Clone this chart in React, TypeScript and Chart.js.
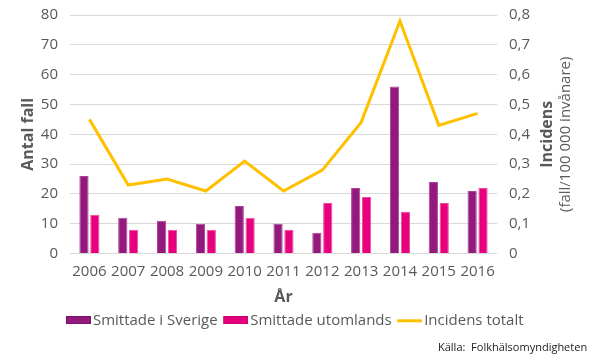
import React, { useEffect, useRef } from "react";
import { Chart, registerables } from "chart.js";

Chart.register(...registerables);

const years = ["2006", "2007", "2008", "2009", "2010", "2011", "2012", "2013", "2014", "2015", "2016"];
const smittadeSverige = [26, 12, 11, 10, 16, 10, 7, 22, 56, 24, 21];
const smittadeUtomlands = [13, 8, 8, 8, 12, 8, 17, 19, 14, 17, 22];
const incidensTotalt = [0.45, 0.23, 0.25, 0.21, 0.31, 0.21, 0.28, 0.44, 0.78, 0.43, 0.47];

const FONT = "'Open Sans', 'Noto Sans', sans-serif";
const GREY = "#595959";
const PURPLE = "#931A7C";
const PINK = "#E6007E";
const GOLD = "#FFC000";

const LEGEND_BOX = 19;

function legendMarker(kind: "rect" | "line", color: string, border?: string) {
  const c = document.createElement("canvas");
  const W = 49 - LEGEND_BOX;
  c.width = W;
  c.height = 8;
  const g = c.getContext("2d")!;
  const x0 = W - 25;
  if (kind === "rect") {
    g.fillStyle = color;
    g.fillRect(x0, 0, 25, 8);
    if (border) {
      g.strokeStyle = border;
      g.lineWidth = 1;
      g.strokeRect(x0 + 0.5, 0.5, 24, 7);
    }
  } else {
    g.fillStyle = color;
    g.fillRect(x0, 3, 25, 3);
  }
  return c;
}

const axisTitles = {
  id: "axisTitles",
  afterDraw(chart: any) {
    const { ctx, chartArea } = chart;
    const cy = (chartArea.top + chartArea.bottom) / 2;
    ctx.save();
    ctx.fillStyle = GREY;
    ctx.textAlign = "center";
    ctx.textBaseline = "middle";
    const draw = (text: string, x: number, font: string) => {
      ctx.save();
      ctx.translate(x, cy);
      ctx.rotate(-Math.PI / 2);
      ctx.font = font;
      ctx.fillText(text, 0, 0);
      ctx.restore();
    };
    draw("Antal fall", 28, `bold 16px ${FONT}`);
    draw("Incidens", 547, `bold 16px ${FONT}`);
    draw("(fall/100 000 invånare)", 566, `15px ${FONT}`);
    ctx.restore();
  },
};

export default function App() {
  const ref = useRef<HTMLCanvasElement>(null);
  useEffect(() => {
    const markers = [
      legendMarker("rect", PURPLE, "#7A1568"),
      legendMarker("rect", PINK, "#C8006E"),
      legendMarker("line", GOLD),
    ];
    const chart = new Chart(ref.current!, {
      type: "bar",
      data: {
        labels: years,
        datasets: [
          {
            type: "bar",
            label: "Smittade i Sverige",
            data: smittadeSverige,
            backgroundColor: PURPLE,
            borderColor: "#A8449A",
            borderWidth: 1,
            yAxisID: "y",
            order: 2,
          } as any,
          {
            type: "bar",
            label: "Smittade utomlands",
            data: smittadeUtomlands,
            backgroundColor: PINK,
            borderColor: "#EE4C9E",
            borderWidth: 1,
            yAxisID: "y",
            order: 2,
          } as any,
          {
            type: "line",
            label: "Incidens totalt",
            data: incidensTotalt,
            borderColor: GOLD,
            backgroundColor: GOLD,
            borderWidth: 3,
            pointRadius: 0,
            tension: 0,
            yAxisID: "y1",
            order: 1,
          } as any,
        ],
      },
      options: {
        animation: false,
        responsive: true,
        maintainAspectRatio: false,
        layout: { padding: { top: 0, left: 0, right: 0, bottom: 0 } },
        datasets: { bar: { categoryPercentage: 0.56, barPercentage: 0.85 } } as any,
        font: { family: FONT },
        scales: {
          x: {
            grid: { display: false, drawTicks: false },
            border: { display: false },
            ticks: { color: GREY, font: { family: FONT, size: 15 }, maxRotation: 0, padding: 9 },
            title: { display: true, text: "År", color: GREY, font: { family: FONT, size: 16, weight: "bold" }, padding: { top: -2, bottom: 0 } },
          },
          y: {
            position: "left",
            min: 0,
            max: 80,
            ticks: { stepSize: 10, color: GREY, font: { family: FONT, size: 15 }, padding: 12 },
            grid: { color: "#D9D9D9", lineWidth: 1, drawTicks: false },
            border: { display: false },
            afterFit: (s: any) => { s.width = 70; s.paddingTop = 15; s.paddingBottom = 0; },
          },
          y1: {
            position: "right",
            min: 0,
            max: 0.8,
            ticks: {
              stepSize: 0.1,
              color: GREY,
              font: { family: FONT, size: 15 },
              padding: 12,
              callback: (v: any) => (v === 0 ? "0" : Number(v).toFixed(1).replace(".", ",")),
            },
            grid: { display: false, drawTicks: false },
            border: { display: false },
            afterFit: (s: any) => { s.width = 93; s.paddingTop = 15; s.paddingBottom = 0; },
          },
        },
        plugins: {
          legend: {
            position: "bottom",
            labels: {
              usePointStyle: true,
              pointStyleWidth: LEGEND_BOX,
              boxHeight: 7,
              color: GREY,
              font: { family: FONT, size: 15 },
              padding: 6,
              sort: (a: any, b: any) => a.datasetIndex - b.datasetIndex,
              generateLabels: (c: any) => {
                const items = Chart.defaults.plugins.legend.labels.generateLabels(c);
                return items.map((it: any) => ({ ...it, pointStyle: markers[it.datasetIndex], lineWidth: 0 }));
              },
            },
          },
          subtitle: {
            display: true,
            position: "bottom",
            align: "end",
            text: "Källa:  Folkhälsomyndigheten ",
            color: "#222222",
            font: { family: FONT, size: 11, weight: "normal" },
            padding: { top: 3, bottom: 0 },
          },
          tooltip: { enabled: false },
        },
      },
      plugins: [axisTitles],
    });
    return () => chart.destroy();
  }, []);
  return (
    <div style={{ position: "fixed", left: 0, top: 0, width: 590, height: 354 }}>
      <canvas ref={ref} />
    </div>
  );
}
